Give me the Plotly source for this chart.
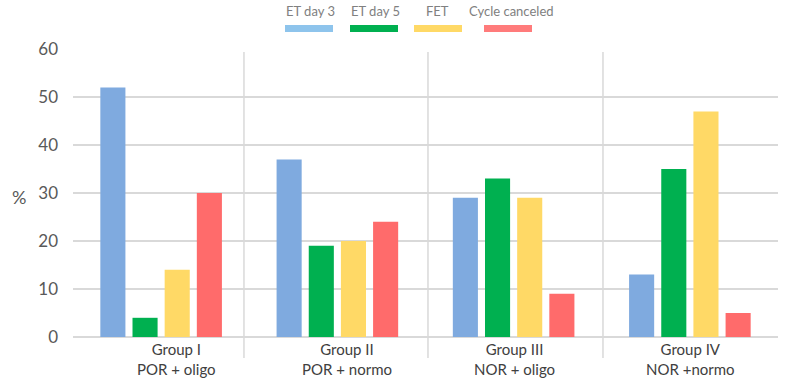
import plotly.graph_objects as go

# ---- data ----
groups = ["Group I", "Group II", "Group III", "Group IV"]
subgroups = ["POR + oligo", "POR + normo", "NOR + oligo", "NOR +normo"]
series_names = ["ET day 3", "ET day 5", "FET", "Cycle canceled"]
et_day3 = [52, 37, 29, 13]
et_day5 = [4, 19, 33, 35]
fet = [14, 20, 29, 47]
cycle_canceled = [30, 24, 9, 5]
y_ticks = [0, 10, 20, 30, 40, 50, 60]

# ---- styles ----
bar_colors = ["#7FAADF", "#00B050", "#FFD966", "#FF6B6B"]
legend_colors = ["#8EC4EC", "#00B050", "#FFD966", "#FF7B7B"]
FONT = "Lato, 'Open Sans', sans-serif"
W, H = 790, 384
ML, MR, MT, MB = 73, 12, 49, 47
PW, PH = W - ML - MR, H - MT - MB


def px_x(px):
    return (px - ML) / PW


def px_y(py):
    return (H - MB - py) / PH


fig = go.Figure()
for name, vals, col in zip(series_names, [et_day3, et_day5, fet, cycle_canceled], bar_colors):
    fig.add_trace(go.Bar(
        x=groups, y=vals, name=name, marker=dict(color=col, line=dict(width=0)),
        showlegend=False,
    ))

fig.update_layout(
    width=W, height=H,
    margin=dict(l=ML, r=MR, t=MT, b=MB, pad=0),
    paper_bgcolor="white", plot_bgcolor="white",
    barmode="group", bargap=0.27, bargroupgap=0.22,
    font=dict(family=FONT, color="#595959"),
    xaxis=dict(showticklabels=False, showgrid=False, zeroline=False, showline=False,
               ticks=""),
    yaxis=dict(range=[0, 60], tickvals=y_ticks, showgrid=True, gridcolor="#D9D9D9",
               gridwidth=1.5, zeroline=True, zerolinecolor="#D9D9D9", zerolinewidth=1.5,
               showline=False, ticks="", ticklabelstandoff=14,
               tickfont=dict(size=17, color="#595959", family=FONT)),
)

# category separators (multi-level axis dividers)
for sx in [0.470, 1.514, 2.507]:
    fig.add_shape(type="line", xref="x", yref="paper", x0=sx, x1=sx,
                  y0=px_y(358), y1=px_y(52), line=dict(color="#D9D9D9", width=1.5))

# two-level category labels
label_shift = [15, 10, 1, 1]
for g, s, dx in zip(groups, subgroups, label_shift):
    fig.add_annotation(x=g, xref="x", yref="paper", y=px_y(338), yanchor="top",
                       xshift=dx, showarrow=False, text=f"{g}<br>{s}",
                       font=dict(size=15, color="#404040", family=FONT), align="center")

# y-axis title
fig.add_annotation(x=px_x(19), y=px_y(197), xref="paper", yref="paper", showarrow=False,
                   xanchor="center", text="%", font=dict(size=18, color="#595959", family=FONT))

# legend: text above colour swatch
leg_text_x = [310, 375, 437, 511]
leg_sw = [(285, 333), (350, 398), (414, 462), (484, 532)]
for name, col, tx, (a, b) in zip(series_names, legend_colors, leg_text_x, leg_sw):
    fig.add_annotation(x=px_x(tx), y=px_y(21), xref="paper", yref="paper", showarrow=False,
                       yanchor="bottom", text=name,
                       font=dict(size=13, color="#808080", family=FONT))
    fig.add_shape(type="rect", xref="paper", yref="paper", x0=px_x(a), x1=px_x(b),
                  y0=px_y(32), y1=px_y(25), line=dict(width=0), fillcolor=col)

fig.write_html("out.html")
